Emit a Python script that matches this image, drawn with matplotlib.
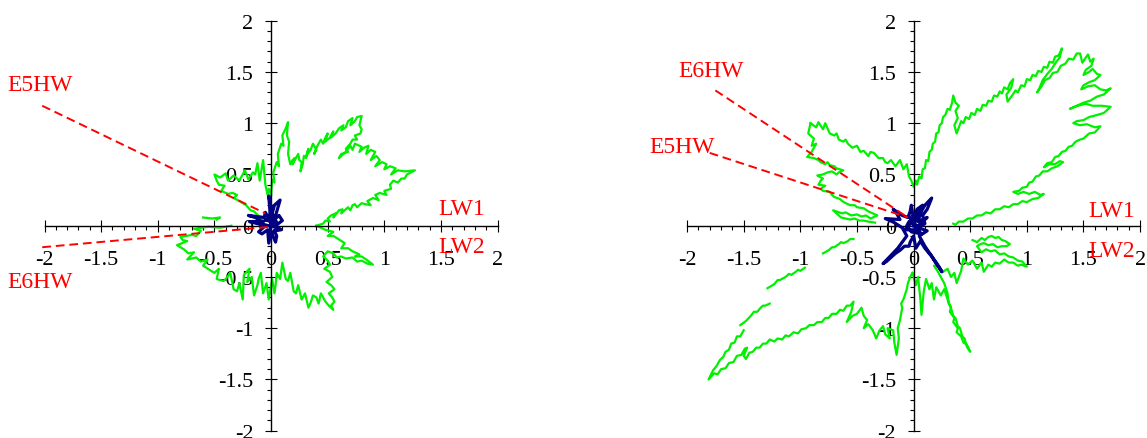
import numpy as np
import matplotlib
matplotlib.use("Agg")
import matplotlib.pyplot as plt
from matplotlib.ticker import MultipleLocator

plt.rcParams['font.family'] = ['Liberation Serif', 'DejaVu Serif']
plt.rcParams['axes.unicode_minus'] = False

GREEN = '#00F000'
NAVY = '#000080'
RED = '#FF0000'

# ── left panel: traces (x, y) ──
left_green_a = [
    (0.00, 0.30), (0.01, 0.45), (0.03, 0.42), (0.02, 0.52), (0.05, 0.62), (0.07, 0.58),
    (0.06, 0.70), (0.09, 0.80), (0.11, 0.78), (0.10, 0.88), (0.13, 0.95), (0.15, 1.01),
    (0.14, 0.88), (0.16, 0.82), (0.15, 0.70), (0.17, 0.60), (0.19, 0.64), (0.21, 0.66),
    (0.19, 0.60), (0.22, 0.66), (0.24, 0.70), (0.25, 0.64), (0.27, 0.62), (0.26, 0.53),
    (0.28, 0.60), (0.29, 0.68), (0.31, 0.66), (0.33, 0.75), (0.31, 0.68), (0.35, 0.74),
    (0.37, 0.80), (0.40, 0.74), (0.38, 0.70), (0.41, 0.78), (0.44, 0.84), (0.46, 0.80),
    (0.48, 0.86), (0.50, 0.90), (0.48, 0.82), (0.52, 0.86), (0.55, 0.92), (0.53, 0.86),
    (0.57, 0.90), (0.60, 0.95), (0.64, 0.98), (0.62, 0.93), (0.66, 0.96), (0.68, 1.02),
    (0.72, 1.05), (0.70, 0.98), (0.74, 1.02), (0.76, 1.06), (0.80, 1.07), (0.78, 0.98),
    (0.80, 0.94), (0.79, 0.90), (0.74, 0.88), (0.76, 0.84), (0.72, 0.84), (0.70, 0.80),
    (0.66, 0.75), (0.68, 0.72), (0.62, 0.70), (0.60, 0.66), (0.64, 0.70), (0.66, 0.72),
    (0.70, 0.78), (0.72, 0.74), (0.74, 0.80), (0.80, 0.77), (0.78, 0.72), (0.82, 0.76),
    (0.86, 0.78), (0.84, 0.70), (0.88, 0.74), (0.92, 0.72), (0.88, 0.64), (0.93, 0.68),
    (0.96, 0.64), (0.92, 0.58), (0.98, 0.62), (1.02, 0.60), (1.00, 0.55), (1.05, 0.58),
    (1.10, 0.56), (1.06, 0.50), (1.12, 0.54), (1.18, 0.53), (1.27, 0.54), (1.20, 0.50),
    (1.18, 0.46), (1.15, 0.46), (1.12, 0.42), (1.08, 0.44), (1.05, 0.40), (1.06, 0.36),
    (1.00, 0.34), (1.02, 0.30), (0.96, 0.32), (0.92, 0.30), (0.95, 0.25), (0.90, 0.27),
    (0.85, 0.24), (0.88, 0.20), (0.83, 0.21), (0.80, 0.22), (0.76, 0.18), (0.74, 0.21),
    (0.72, 0.20), (0.70, 0.15), (0.68, 0.18), (0.66, 0.16), (0.62, 0.12), (0.63, 0.16),
    (0.60, 0.15), (0.55, 0.08), (0.57, 0.12), (0.53, 0.10), (0.50, 0.07), (0.52, 0.04),
    (0.48, 0.05), (0.46, 0.02), (0.40, 0.00),
]
left_green_b = [
    (0.40, 0.00), (0.48, -0.04), (0.55, -0.06), (0.50, -0.10), (0.55, -0.10), (0.58, -0.12),
    (0.65, -0.17), (0.62, -0.22), (0.68, -0.22), (0.72, -0.25), (0.78, -0.28), (0.74, -0.30),
    (0.80, -0.30), (0.84, -0.33), (0.90, -0.38), (0.85, -0.37), (0.80, -0.34), (0.76, -0.35),
    (0.72, -0.31), (0.66, -0.32), (0.62, -0.30), (0.58, -0.31), (0.55, -0.27), (0.50, -0.25),
    (0.46, -0.30), (0.50, -0.34), (0.52, -0.38), (0.47, -0.42), (0.52, -0.45), (0.54, -0.50),
    (0.49, -0.55), (0.53, -0.58), (0.56, -0.62), (0.51, -0.66), (0.54, -0.70), (0.56, -0.74),
    (0.53, -0.78), (0.55, -0.82), (0.51, -0.78), (0.48, -0.74), (0.44, -0.66), (0.42, -0.76),
    (0.40, -0.70), (0.37, -0.68), (0.35, -0.75), (0.33, -0.80), (0.30, -0.66), (0.28, -0.70),
    (0.27, -0.72), (0.24, -0.58), (0.22, -0.66), (0.20, -0.64), (0.17, -0.46), (0.15, -0.54),
    (0.13, -0.52), (0.10, -0.36), (0.08, -0.52), (0.05, -0.46), (0.04, -0.58), (0.03, -0.66),
    (0.01, -0.52), (-0.02, -0.72), (-0.04, -0.56), (-0.07, -0.66), (-0.09, -0.46),
    (-0.11, -0.52), (-0.12, -0.58), (-0.15, -0.68), (-0.17, -0.50), (-0.21, -0.55),
    (-0.19, -0.42), (-0.24, -0.48), (-0.25, -0.72), (-0.28, -0.56), (-0.30, -0.64),
    (-0.33, -0.62), (-0.36, -0.46), (-0.40, -0.52), (-0.42, -0.54), (-0.48, -0.52),
    (-0.46, -0.42), (-0.50, -0.46), (-0.53, -0.44), (-0.60, -0.39), (-0.56, -0.33),
    (-0.62, -0.35), (-0.66, -0.31), (-0.74, -0.33), (-0.68, -0.26), (-0.73, -0.27),
    (-0.77, -0.23), (-0.83, -0.19), (-0.74, -0.15), (-0.78, -0.14), (-0.80, -0.11),
    (-0.70, -0.09), (-0.66, -0.10), (-0.62, -0.05), (-0.68, -0.03), (-0.55, -0.01),
    (-0.45, -0.02), (-0.35, 0.00),
]
left_green_c = [(-0.60, 0.08), (-0.52, 0.07), (-0.45, 0.08), (-0.48, 0.06)]
left_green_d = [
    (-0.08, 0.06), (-0.15, 0.14), (-0.18, 0.15), (-0.22, 0.20), (-0.28, 0.24), (-0.33, 0.27),
    (-0.30, 0.30), (-0.34, 0.32), (-0.38, 0.31), (-0.44, 0.34), (-0.41, 0.39), (-0.46, 0.40),
    (-0.48, 0.44), (-0.50, 0.50), (-0.45, 0.47), (-0.40, 0.51), (-0.38, 0.44), (-0.33, 0.49),
    (-0.28, 0.44), (-0.23, 0.54), (-0.20, 0.45), (-0.16, 0.52), (-0.14, 0.50), (-0.12, 0.61),
    (-0.10, 0.44), (-0.07, 0.64), (-0.05, 0.40), (-0.03, 0.30), (-0.02, 0.36), (0.00, 0.30),
]
left_navy = [
    (0.00, 0.00), (-0.02, 0.29), (0.01, 0.12), (0.03, 0.20), (0.08, 0.25), (0.03, 0.06),
    (0.07, 0.10), (0.10, 0.05), (0.04, 0.00), (0.09, -0.04), (0.03, -0.05), (0.05, -0.10),
    (0.04, -0.16), (0.00, -0.06), (-0.02, -0.17), (-0.03, -0.04), (-0.08, -0.08),
    (-0.11, -0.06), (-0.05, 0.00), (-0.12, 0.02), (-0.19, 0.04), (-0.08, 0.04), (-0.14, 0.08),
    (-0.20, 0.10), (-0.06, 0.08), (-0.05, 0.13), (-0.01, 0.05), (0.00, 0.20), (0.02, 0.02),
    (-0.04, 0.06), (0.05, 0.03), (0.02, 0.10), (-0.10, 0.02), (0.06, -0.02), (-0.02, -0.10),
    (0.00, 0.00),
]
left_e5hw = [(-2.02, 1.17), (-0.05, 0.12)]
left_e6hw = [(-2.02, -0.21), (0.00, -0.01)]

# ── right panel ──
right_green_a = [
    (-0.91, 1.00), (-0.86, 0.96), (-0.84, 1.01), (-0.80, 0.94), (-0.78, 1.00), (-0.74, 0.90),
    (-0.70, 0.88), (-0.68, 0.90), (-0.66, 0.84), (-0.62, 0.82), (-0.60, 0.84), (-0.58, 0.80),
    (-0.54, 0.76), (-0.50, 0.78), (-0.47, 0.72), (-0.44, 0.73), (-0.40, 0.68), (-0.38, 0.72),
    (-0.35, 0.71), (-0.31, 0.66), (-0.27, 0.66), (-0.25, 0.62), (-0.23, 0.61), (-0.20, 0.64),
    (-0.16, 0.58), (-0.12, 0.64), (-0.09, 0.55), (-0.06, 0.60), (-0.04, 0.48), (-0.02, 0.44),
    (0.00, 0.38), (0.02, 0.44), (0.03, 0.40), (0.05, 0.48), (0.07, 0.46), (0.08, 0.55),
    (0.10, 0.56), (0.11, 0.64), (0.13, 0.63), (0.14, 0.72), (0.16, 0.74), (0.17, 0.80),
    (0.19, 0.82), (0.20, 0.90), (0.22, 0.91), (0.23, 0.98), (0.25, 1.00), (0.26, 1.06),
    (0.28, 1.08), (0.30, 1.14), (0.32, 1.13), (0.34, 1.20), (0.35, 1.27), (0.37, 1.20),
    (0.40, 1.17), (0.37, 1.12), (0.39, 1.05), (0.36, 0.98), (0.38, 0.90), (0.40, 0.96),
    (0.42, 1.02), (0.44, 1.00), (0.46, 1.06), (0.49, 1.04), (0.51, 1.10), (0.54, 1.08),
    (0.56, 1.14), (0.59, 1.12), (0.61, 1.18), (0.64, 1.17), (0.66, 1.22), (0.69, 1.21),
    (0.71, 1.27), (0.74, 1.26), (0.76, 1.31), (0.78, 1.29), (0.80, 1.35), (0.83, 1.33),
    (0.85, 1.39), (0.88, 1.43), (0.86, 1.34), (0.82, 1.28), (0.83, 1.21), (0.87, 1.27),
    (0.90, 1.32), (0.92, 1.30), (0.95, 1.37), (0.98, 1.36), (1.00, 1.43), (1.03, 1.42),
    (1.05, 1.47), (1.08, 1.46), (1.10, 1.51), (1.13, 1.50), (1.15, 1.55), (1.18, 1.54),
    (1.20, 1.60), (1.23, 1.59), (1.25, 1.65), (1.28, 1.66), (1.31, 1.73), (1.29, 1.64),
    (1.26, 1.60), (1.22, 1.53), (1.18, 1.48), (1.14, 1.42), (1.11, 1.34), (1.09, 1.30),
    (1.13, 1.36), (1.16, 1.42), (1.20, 1.44), (1.23, 1.49), (1.27, 1.50), (1.30, 1.56),
    (1.34, 1.58), (1.37, 1.63), (1.41, 1.62), (1.44, 1.68), (1.47, 1.68), (1.49, 1.59),
    (1.52, 1.64), (1.54, 1.67), (1.56, 1.60), (1.59, 1.63), (1.57, 1.56), (1.52, 1.52),
    (1.50, 1.47), (1.55, 1.50), (1.58, 1.53), (1.62, 1.48), (1.65, 1.47), (1.60, 1.42),
    (1.55, 1.40), (1.50, 1.37), (1.48, 1.33), (1.54, 1.36), (1.60, 1.37), (1.65, 1.33),
    (1.70, 1.32), (1.74, 1.34), (1.68, 1.28), (1.62, 1.26), (1.56, 1.22), (1.50, 1.20),
    (1.44, 1.17), (1.38, 1.14), (1.45, 1.17), (1.52, 1.19), (1.58, 1.17), (1.66, 1.17),
    (1.74, 1.16), (1.68, 1.10), (1.62, 1.08), (1.55, 1.06), (1.50, 1.03), (1.44, 1.02),
    (1.41, 1.00), (1.47, 0.98), (1.53, 0.99), (1.60, 0.96), (1.65, 0.97), (1.60, 0.91),
    (1.55, 0.90), (1.50, 0.85), (1.47, 0.84), (1.43, 0.82), (1.40, 0.78), (1.37, 0.77),
    (1.34, 0.73), (1.31, 0.72), (1.28, 0.68), (1.25, 0.67), (1.22, 0.62), (1.18, 0.61),
    (1.15, 0.57), (1.20, 0.60), (1.25, 0.60), (1.29, 0.63), (1.32, 0.62), (1.27, 0.58),
    (1.22, 0.56), (1.18, 0.53), (1.14, 0.53), (1.11, 0.49), (1.08, 0.48), (1.05, 0.43),
    (1.02, 0.42), (1.00, 0.38), (0.96, 0.37), (0.93, 0.34), (0.88, 0.33), (0.92, 0.31),
    (0.97, 0.33), (1.02, 0.31), (1.07, 0.33), (1.12, 0.30), (1.15, 0.31), (1.10, 0.27),
    (1.05, 0.26), (1.00, 0.23), (0.96, 0.24), (0.92, 0.21), (0.88, 0.21), (0.84, 0.18),
    (0.80, 0.19), (0.76, 0.16), (0.72, 0.16), (0.68, 0.12), (0.64, 0.13), (0.60, 0.10),
    (0.56, 0.10), (0.52, 0.07), (0.48, 0.07), (0.44, 0.04), (0.40, 0.04), (0.37, 0.01),
    (0.35, 0.02),
]
right_green_b = [
    (-0.91, 1.00), (-0.93, 0.90), (-0.88, 0.85), (-0.90, 0.78), (-0.86, 0.80), (-0.90, 0.72),
    (-0.94, 0.67), (-0.88, 0.66), (-0.84, 0.64), (-0.82, 0.62), (-0.78, 0.60), (-0.76, 0.62),
    (-0.74, 0.59), (-0.70, 0.58), (-0.68, 0.56), (-0.62, 0.54), (-0.66, 0.52), (-0.68, 0.50),
    (-0.72, 0.53), (-0.76, 0.52), (-0.80, 0.50), (-0.85, 0.49), (-0.80, 0.46), (-0.82, 0.44),
    (-0.84, 0.40), (-0.78, 0.39), (-0.82, 0.36), (-0.80, 0.34), (-0.74, 0.33), (-0.72, 0.30),
    (-0.70, 0.28), (-0.65, 0.26), (-0.63, 0.24), (-0.60, 0.22), (-0.56, 0.20), (-0.52, 0.20),
    (-0.50, 0.18), (-0.44, 0.17), (-0.40, 0.14), (-0.38, 0.13), (-0.32, 0.10), (-0.38, 0.07),
    (-0.42, 0.10), (-0.46, 0.09), (-0.50, 0.11), (-0.55, 0.10), (-0.60, 0.13), (-0.63, 0.12),
    (-0.71, 0.15), (-0.64, 0.08), (-0.60, 0.07), (-0.56, 0.06), (-0.52, 0.07), (-0.48, 0.05),
    (-0.44, 0.05), (-0.40, 0.04), (-0.34, 0.03),
]
right_green_c = [(-0.53, -0.13), (-0.56, -0.13), (-0.58, -0.15), (-0.62, -0.17), (-0.64, -0.16),
                 (-0.66, -0.18), (-0.70, -0.21), (-0.72, -0.21), (-0.75, -0.24), (-0.80, -0.27)]
right_green_d = [(-0.96, -0.41), (-1.00, -0.44), (-1.02, -0.43), (-1.04, -0.45), (-1.08, -0.48),
                 (-1.10, -0.47), (-1.13, -0.50), (-1.18, -0.53), (-1.20, -0.53), (-1.23, -0.57),
                 (-1.29, -0.61)]
right_green_e = [(-1.27, -0.76), (-1.31, -0.78), (-1.33, -0.78), (-1.35, -0.80), (-1.38, -0.84),
                 (-1.41, -0.84), (-1.43, -0.87), (-1.48, -0.93), (-1.53, -0.97)]
right_green_f = [
    (-1.50, -1.02), (-1.53, -1.08), (-1.56, -1.08), (-1.58, -1.14), (-1.61, -1.15),
    (-1.63, -1.21), (-1.66, -1.23), (-1.68, -1.28), (-1.71, -1.31), (-1.74, -1.37),
    (-1.77, -1.41), (-1.81, -1.50), (-1.76, -1.44), (-1.73, -1.45), (-1.70, -1.40),
    (-1.66, -1.39), (-1.63, -1.34), (-1.59, -1.33), (-1.56, -1.27), (-1.52, -1.26),
    (-1.49, -1.20), (-1.47, -1.19), (-1.50, -1.27), (-1.48, -1.30), (-1.45, -1.24),
    (-1.42, -1.23), (-1.39, -1.19), (-1.36, -1.19), (-1.33, -1.15), (-1.30, -1.15),
    (-1.27, -1.11), (-1.23, -1.13), (-1.20, -1.10), (-1.16, -1.11), (-1.13, -1.07),
    (-1.10, -1.08), (-1.06, -1.04), (-1.02, -1.05), (-0.99, -1.01), (-0.95, -1.00),
    (-0.92, -0.97), (-0.88, -0.97), (-0.85, -0.94), (-0.81, -0.94), (-0.78, -0.90),
    (-0.75, -0.90), (-0.72, -0.86), (-0.68, -0.86), (-0.65, -0.82), (-0.62, -0.83),
    (-0.59, -0.78), (-0.56, -0.78), (-0.53, -0.74), (-0.55, -0.84), (-0.59, -0.94),
    (-0.54, -0.88), (-0.50, -0.86), (-0.46, -0.80), (-0.44, -0.88), (-0.41, -0.92),
    (-0.44, -1.00), (-0.40, -0.96), (-0.36, -1.02), (-0.33, -1.10), (-0.30, -1.02),
    (-0.27, -0.98), (-0.25, -1.06), (-0.21, -1.10), (-0.23, -1.00), (-0.18, -1.02),
    (-0.17, -1.14), (-0.15, -1.26), (-0.13, -1.10), (-0.14, -1.00), (-0.12, -0.92),
    (-0.10, -0.80), (-0.11, -0.76), (-0.09, -0.72), (-0.06, -0.62), (-0.05, -0.56),
    (-0.03, -0.50), (-0.01, -0.46),
]
right_green_g = [
    (-0.01, -0.46), (0.02, -0.58), (0.04, -0.50), (0.06, -0.72), (0.07, -0.87), (0.09, -0.64),
    (0.11, -0.52), (0.14, -0.62), (0.16, -0.56), (0.18, -0.72), (0.20, -0.60), (0.24, -0.68),
    (0.27, -0.62), (0.30, -0.72), (0.33, -0.80), (0.32, -0.84), (0.36, -0.90), (0.35, -0.94),
    (0.39, -1.00), (0.38, -1.04), (0.42, -1.08), (0.44, -1.14), (0.47, -1.16), (0.50, -1.23),
    (0.47, -1.18), (0.45, -1.10), (0.43, -1.08), (0.41, -1.00), (0.39, -0.98), (0.37, -0.90),
    (0.35, -0.88), (0.33, -0.80), (0.31, -0.76), (0.30, -0.66), (0.27, -0.56), (0.24, -0.50),
    (0.21, -0.44), (0.18, -0.39), (0.22, -0.40), (0.26, -0.45), (0.30, -0.42), (0.33, -0.50),
    (0.36, -0.46), (0.38, -0.56), (0.40, -0.50), (0.42, -0.44), (0.44, -0.32), (0.48, -0.38),
    (0.52, -0.34), (0.56, -0.42), (0.60, -0.36), (0.62, -0.45), (0.66, -0.38), (0.69, -0.40),
    (0.72, -0.36), (0.76, -0.37), (0.80, -0.33), (0.84, -0.36), (0.88, -0.36), (0.92, -0.39),
    (0.95, -0.38), (1.00, -0.40), (0.96, -0.35), (0.92, -0.34), (0.88, -0.31), (0.84, -0.30),
    (0.80, -0.27), (0.76, -0.28), (0.72, -0.24), (0.68, -0.25), (0.64, -0.23), (0.60, -0.26),
    (0.56, -0.20), (0.59, -0.18), (0.62, -0.17), (0.66, -0.19), (0.70, -0.18), (0.74, -0.21),
    (0.78, -0.20), (0.82, -0.20), (0.85, -0.18), (0.81, -0.15), (0.78, -0.14), (0.75, -0.11),
    (0.72, -0.12), (0.69, -0.10), (0.66, -0.11), (0.63, -0.14), (0.60, -0.12), (0.56, -0.16),
    (0.52, -0.14),
]
right_navy = [
    (0.00, 0.00), (0.05, 0.15), (0.02, 0.05), (0.10, 0.20), (0.16, 0.27), (0.12, 0.16),
    (0.08, 0.10), (0.10, 0.02), (0.04, -0.02), (0.12, -0.05), (0.05, -0.10), (0.08, -0.16),
    (0.10, -0.20), (0.13, -0.25), (0.15, -0.28), (0.18, -0.33), (0.20, -0.36), (0.23, -0.41),
    (0.25, -0.45), (0.20, -0.37), (0.16, -0.30), (0.10, -0.22), (0.06, -0.15), (0.02, -0.22),
    (0.00, -0.10), (-0.03, -0.16), (-0.04, -0.20), (-0.08, -0.20), (-0.12, -0.24),
    (-0.16, -0.27), (-0.20, -0.31), (-0.24, -0.35), (-0.27, -0.37), (-0.20, -0.29),
    (-0.14, -0.22), (-0.06, -0.10), (-0.10, -0.02), (-0.17, 0.03), (-0.25, 0.07),
    (-0.12, 0.06), (-0.15, 0.12), (-0.18, 0.16), (-0.10, 0.10), (-0.05, 0.08), (-0.03, 0.14),
    (-0.02, 0.20), (0.00, 0.06), (0.03, 0.16), (0.08, 0.20), (0.04, 0.04), (0.12, 0.08),
    (0.02, -0.02), (0.07, -0.08), (-0.02, -0.06), (-0.06, 0.00), (-0.04, 0.04), (0.03, 0.10),
    (0.06, 0.12), (-0.08, -0.04), (0.05, -0.04), (-0.03, 0.08), (0.00, 0.00),
]
right_e5hw = [(-1.80, 0.71), (-0.05, 0.08)]
right_e6hw = [(-1.75, 1.32), (-0.05, 0.08)]

# label text and positions (data units)
left_labels = [('E5HW', -2.33, 1.38), ('E6HW', -2.33, -0.54), ('LW1', 1.48, 0.17), ('LW2', 1.48, -0.20)]
right_labels = [('E6HW', -2.08, 1.51), ('E5HW', -2.33, 0.77), ('LW1', 1.54, 0.15), ('LW2', 1.54, -0.24)]

fig = plt.figure(figsize=(11.47, 4.39), dpi=100, facecolor='white')
ax_l = fig.add_axes([0.0388, 0.0166, 0.395, 0.934])
ax_r = fig.add_axes([0.599, 0.0166, 0.395, 0.934])


def draw_panel(ax, greens, navy, reds, labels):
    for seg in greens:
        xs, ys = np.array(seg).T
        ax.plot(xs, ys, color=GREEN, lw=1.6, solid_joinstyle='round', zorder=2)
    xs, ys = np.array(navy).T
    ax.plot(xs, ys, color=NAVY, lw=2.3, zorder=3)
    for seg in reds:
        xs, ys = np.array(seg).T
        ax.plot(xs, ys, color=RED, lw=1.4, dashes=(4.5, 2.5), zorder=4, clip_on=False)
    for txt, x, y in labels:
        ax.text(x, y, txt, color=RED, fontsize=17, ha='left', va='center', clip_on=False)

    ax.set_xlim(-2, 2)
    ax.set_ylim(-2, 2)
    for s in ['top', 'right']:
        ax.spines[s].set_visible(False)
    for s in ['left', 'bottom']:
        ax.spines[s].set_position(('data', 0))
        ax.spines[s].set_linewidth(1.0)
    ax.xaxis.set_major_locator(MultipleLocator(0.5))
    ax.yaxis.set_major_locator(MultipleLocator(0.5))
    ax.xaxis.set_minor_locator(MultipleLocator(0.1))
    ax.yaxis.set_minor_locator(MultipleLocator(0.1))
    fmt = lambda v, p: ('%g' % v)
    ax.xaxis.set_major_formatter(fmt)
    ax.yaxis.set_major_formatter(fmt)
    ax.tick_params(which='major', direction='inout', length=8.5, width=0.8, labelsize=16)
    ax.tick_params(axis='x', which='major', pad=13.0)
    ax.tick_params(axis='y', which='major', pad=8.5)
    ax.tick_params(which='minor', direction='out', length=3, width=0.8)
    ax.patch.set_visible(False)


draw_panel(ax_l, [left_green_a, left_green_b, left_green_c, left_green_d],
           left_navy, [left_e5hw, left_e6hw], left_labels)
draw_panel(ax_r, [right_green_a, right_green_b, right_green_c, right_green_d,
                  right_green_e, right_green_f, right_green_g],
           right_navy, [right_e5hw, right_e6hw], right_labels)

fig.savefig('out.png', dpi=100, facecolor='white')
